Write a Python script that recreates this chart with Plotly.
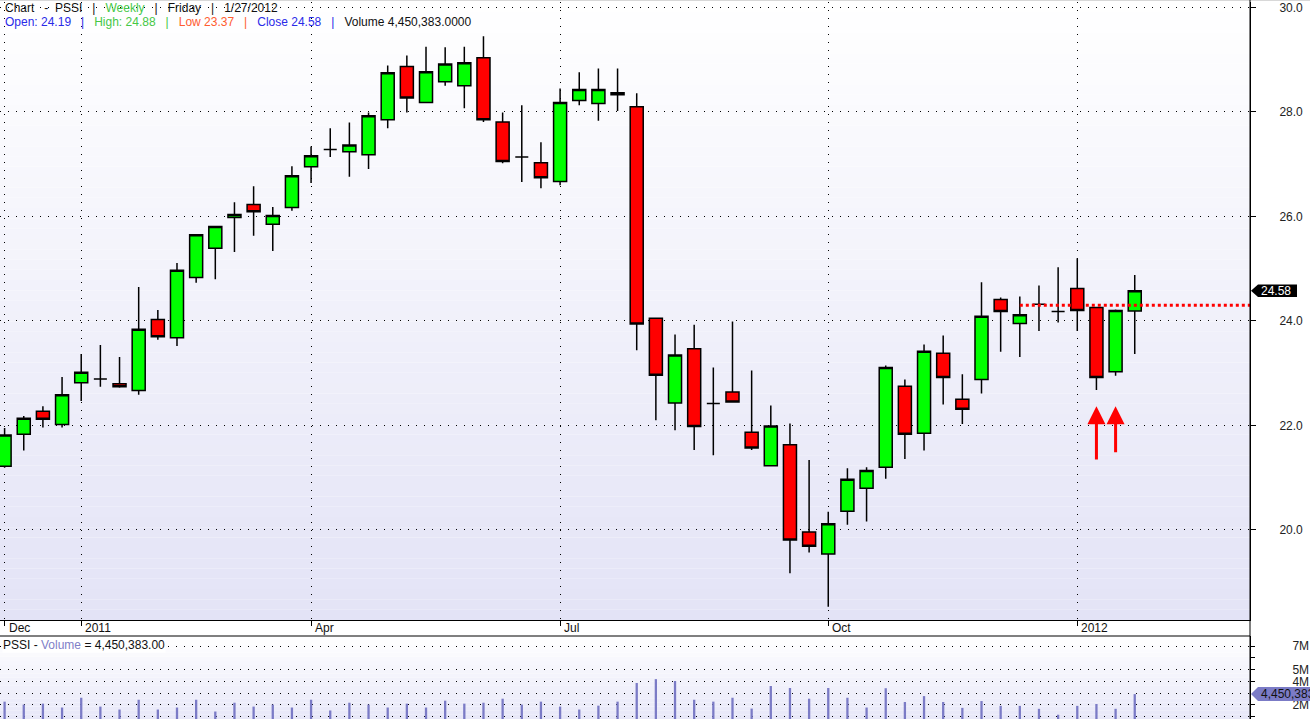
import numpy as np
import pandas as pd
import plotly.graph_objects as go

# ---------------- data ----------------
week_ending = pd.date_range("2010-12-10", periods=60, freq="7D")

open_ = [21.22, 21.83, 22.27, 22.02, 22.82, 22.89, 22.80, 22.67, 24.03, 23.68,
         24.83, 25.39, 25.98, 26.23, 25.85, 26.17, 26.95, 27.28, 27.24, 27.18,
         27.85, 28.87, 28.18, 28.58, 28.50, 29.04, 27.81, 27.14, 27.03, 26.67,
         28.22, 28.16, 28.33, 28.10, 24.05, 22.43, 23.47, 22.42, 22.64, 21.87,
         21.23, 21.63, 19.96, 19.54, 20.36, 20.80, 21.20, 22.75, 21.85, 23.38,
         22.50, 22.88, 24.41, 23.95, 24.32, 24.18, 24.62, 24.26, 23.03, 24.19]
high = [21.95, 22.18, 22.37, 22.93, 23.37, 23.54, 23.31, 24.65, 24.21, 25.11,
        25.66, 25.82, 26.27, 26.58, 26.18, 26.96, 27.34, 27.69, 27.80, 27.99,
        28.89, 29.08, 29.25, 29.24, 29.25, 29.45, 27.99, 28.13, 27.42, 28.45,
        28.76, 28.83, 28.83, 28.36, 24.06, 23.74, 23.93, 23.11, 23.99, 23.05,
        22.38, 22.04, 21.34, 20.35, 21.18, 21.20, 23.15, 22.88, 23.55, 23.72,
        22.98, 24.74, 24.45, 24.47, 24.68, 25.03, 25.20, 24.27, 24.22, 24.88]
low = [21.19, 21.52, 21.96, 21.96, 22.47, 22.74, 22.72, 22.59, 23.64, 23.52,
       24.73, 24.80, 25.32, 25.63, 25.34, 26.11, 26.64, 27.14, 26.76, 26.91,
       27.69, 27.99, 28.17, 28.50, 28.07, 27.81, 27.02, 26.66, 26.54, 26.60,
       28.13, 27.83, 28.02, 23.44, 22.10, 21.91, 21.53, 21.43, 22.44, 21.53,
       21.22, 19.17, 19.57, 18.53, 20.10, 20.16, 20.98, 21.36, 21.52, 22.40,
       22.03, 22.61, 23.41, 23.31, 23.81, 23.97, 23.81, 22.68, 22.95, 23.37]
close = [21.82, 22.14, 22.12, 22.59, 23.02, 22.89, 22.74, 23.84, 23.70, 24.97,
         25.65, 25.81, 26.04, 26.09, 26.02, 26.78, 27.16, 27.28, 27.37, 27.93,
         28.75, 28.27, 28.77, 28.92, 28.94, 27.85, 27.05, 27.14, 26.74, 28.18,
         28.43, 28.43, 28.37, 23.94, 22.96, 23.35, 21.98, 22.42, 22.45, 21.57,
         21.99, 19.81, 19.69, 20.12, 20.97, 21.14, 23.11, 21.83, 23.42, 22.92,
         22.31, 24.09, 24.18, 24.12, 24.32, 24.18, 24.20, 22.92, 24.20, 24.58]
# weekly volume in millions, read against the volume panel's scale
volume_m = [2.28, 2.03, 2.11, 1.78, 2.61, 1.86, 1.61, 2.44, 1.61, 1.78,
            2.44, 1.44, 2.19, 1.86, 2.03, 1.78, 2.44, 1.53, 2.19, 2.03,
            1.78, 2.11, 1.78, 2.36, 2.11, 2.19, 2.53, 2.03, 2.28, 1.86,
            1.61, 1.94, 2.28, 3.86, 4.19, 4.03, 2.44, 2.28, 2.61, 1.69,
            3.61, 3.44, 2.53, 3.44, 2.61, 1.78, 3.42, 2.25, 2.75, 2.25,
            1.75, 2.33, 1.92, 1.92, 1.67, 1.17, 1.92, 2.08, 1.67, 2.92]

price_ticks = [20, 22, 24, 26, 28, 30]
volume_ticks_m = [1, 2, 4, 5, 6, 7]
volume_tick_text = ["1M", "2M", "4M", "5M", "", "7M"]
volume_grid_m = [1, 2, 3, 4, 5, 7]
date_tick_dates = ["2010-12-10", "2011-01-07", "2011-04-01", "2011-07-01", "2011-10-07", "2012-01-06"]
date_tick_text = ["Dec", "2011", "Apr", "Jul", "Oct", "2012"]

support_level = 24.30
support_start = 53
arrow_weeks = [57, 58]
arrow_tip = [22.37, 22.37]
arrow_tail = [21.32, 21.46]
last_volume_text = "4,450,383"

# ---------------- geometry / style ----------------
W, H = 1310, 719
PLOT_R = 1250
FONT = "Liberation Sans, Arial, sans-serif"
px_per_day = 19.155 / 7.0


def py(px):
    return 1 - px / H


x_start = week_ending[0] - pd.Timedelta(days=4.6 / px_per_day)
x_end = x_start + pd.Timedelta(days=PLOT_R / px_per_day)

price_lo, price_hi = 18.277, 30.105
vol_lo, vol_hi = 0.806e6, 7.852e6

fig = go.Figure()

fig.add_trace(go.Candlestick(
    x=week_ending, open=open_, high=high, low=low, close=close,
    increasing=dict(line=dict(color="black", width=1.5), fillcolor="#00FF00"),
    decreasing=dict(line=dict(color="black", width=1.5), fillcolor="#FF0000"),
    whiskerwidth=0, xaxis="x", yaxis="y", showlegend=False, hoverinfo="skip"))

fig.add_trace(go.Scatter(
    x=[week_ending[support_start], x_end], y=[support_level, support_level],
    mode="lines", line=dict(color="#FF0000", width=3, dash="dot"),
    xaxis="x", yaxis="y", showlegend=False, hoverinfo="skip"))

bar_ms = 2.3 / px_per_day * 86400000
fig.add_trace(go.Bar(
    x=week_ending, y=np.array(volume_m) * 1e6, width=bar_ms,
    marker=dict(color="#7B7BC6", line=dict(width=0)),
    xaxis="x2", yaxis="y2", showlegend=False, hoverinfo="skip"))

shapes = []
# gradient backgrounds
top = np.array([255, 255, 255])
bot = np.array([227, 227, 246])
N = 60
for k in range(N):
    t = (k + 0.5) / N
    c = bot + (top - bot) * t
    shapes.append(dict(type="rect", xref="x domain", yref="y domain", x0=0, x1=1,
                       y0=k / N, y1=(k + 1) / N, fillcolor=f"rgb({c[0]:.0f},{c[1]:.0f},{c[2]:.0f})",
                       line=dict(width=0), layer="below"))
bot2 = np.array([231, 231, 248])
N2 = 20
for k in range(N2):
    t = (k + 0.5) / N2
    c = bot2 + (top - bot2) * t
    shapes.append(dict(type="rect", xref="x2 domain", yref="y2 domain", x0=0, x1=1,
                       y0=k / N2, y1=(k + 1) / N2, fillcolor=f"rgb({c[0]:.0f},{c[1]:.0f},{c[2]:.0f})",
                       line=dict(width=0), layer="below"))

# borders
shapes.append(dict(type="line", xref="paper", yref="paper", x0=0, x1=1,
                   y0=py(0.5), y1=py(0.5), line=dict(color="#D8D8D8", width=1)))
shapes.append(dict(type="line", xref="paper", yref="paper", x0=PLOT_R / W, x1=PLOT_R / W,
                   y0=0, y1=1, line=dict(color="black", width=1)))
shapes.append(dict(type="line", xref="paper", yref="paper", x0=0, x1=PLOT_R / W,
                   y0=py(636), y1=py(636), line=dict(color="black", width=1)))

# last price tag
c = close[-1]
h = 6.2 / 52.25
shapes.append(dict(type="path", xref="paper", yref="y",
                   path=f"M {1251/W},{c} L {1258/W},{c+h} L {1297/W},{c+h} L {1297/W},{c-h} L {1258/W},{c-h} Z",
                   fillcolor="black", line=dict(width=0)))
# last volume tag
cv = volume_m[-1] * 1e6
hv = 7 / 11.78 * 1e6
shapes.append(dict(type="path", xref="paper", yref="y2",
                   path=f"M {1251/W},{cv} L {1258/W},{cv+hv} L {1315/W},{cv+hv} L {1315/W},{cv-hv} L {1258/W},{cv-hv} Z",
                   fillcolor="#7B7BC6", line=dict(width=0)))

annotations = []
sp = "\u00a0"
sep1 = sp * 3 + "|" + sp * 3
line1 = ("Chart" + sp * 3 + "-" + sp * 2 + "PSSI" + sep1 +
         "<span style='color:#46C846'>Weekly</span>" + sep1 + "Friday" + sep1 + "1/27/2012")
line2 = ("<span style='color:#2A2AE8'>Open: 24.19" + sp * 3 + "|</span>" + sp * 3 +
         "<span style='color:#46C846'>High: 24.88" + sp * 3 + "|</span>" + sp * 3 +
         "<span style='color:#FF5C30'>Low 23.37" + sp * 3 + "|</span>" + sp * 3 +
         "<span style='color:#2A2AE8'>Close 24.58" + sp * 3 + "|</span>" + sp * 3 +
         "Volume 4,450,383.0000")
annotations.append(dict(text=line1, x=3 / W, y=py(8), xref="paper", yref="paper",
                        xanchor="left", yanchor="middle", showarrow=False,
                        font=dict(family=FONT, size=12, color="#111111")))
annotations.append(dict(text=line2, x=3 / W, y=py(22), xref="paper", yref="paper",
                        xanchor="left", yanchor="middle", showarrow=False,
                        font=dict(family=FONT, size=12, color="#111111")))
annotations.append(dict(text="PSSI - <span style='color:#8080C8'>Volume</span> = 4,450,383.00",
                        x=2 / W, y=py(645), xref="paper", yref="paper",
                        xanchor="left", yanchor="middle", showarrow=False, bgcolor="white",
                        borderpad=0, font=dict(family=FONT, size=12, color="#111111")))
for d, t in zip(date_tick_dates, date_tick_text):
    annotations.append(dict(text=t, x=d, y=py(628), xref="x", yref="paper", xanchor="left",
                            yanchor="middle", xshift=2, showarrow=False,
                            font=dict(family=FONT, size=12, color="#111111")))
for i, tip, tail in zip(arrow_weeks, arrow_tip, arrow_tail):
    annotations.append(dict(text="", x=week_ending[i], y=tip, ax=week_ending[i], ay=tail,
                            xref="x", yref="y", axref="x", ayref="y", showarrow=True,
                            arrowhead=2, arrowsize=1.2, arrowwidth=3, arrowcolor="#FF0000"))
annotations.append(dict(text=f"{close[-1]:.2f}", x=1276 / W, y=close[-1], xref="paper", yref="y",
                        xanchor="center", yanchor="middle", showarrow=False,
                        font=dict(family=FONT, size=12, color="white")))
annotations.append(dict(text=last_volume_text, x=1259 / W, y=cv, xref="paper", yref="y2",
                        xanchor="left", yanchor="middle", showarrow=False,
                        font=dict(family=FONT, size=12, color="#111111")))

grid_dash = "1px,7px"
fig.update_layout(
    width=W, height=H, autosize=False,
    margin=dict(l=0, r=0, t=0, b=0, pad=0),
    paper_bgcolor="white", plot_bgcolor="white",
    font=dict(family=FONT, size=12, color="#111111"),
    boxgap=0.32, boxgroupgap=0,
    showlegend=False, hovermode=False,
    shapes=shapes, annotations=annotations,
    xaxis=dict(domain=[0, PLOT_R / W], anchor="y", type="date",
               range=[x_start.isoformat(), x_end.isoformat()],
               rangeslider=dict(visible=False),
               tickmode="array", tickvals=date_tick_dates, ticktext=[""] * len(date_tick_dates),
               ticks="outside", ticklen=5, tickcolor="black", tickwidth=1,
               showgrid=True, gridcolor="black", gridwidth=1, griddash=grid_dash,
               showline=True, linecolor="black", linewidth=1, zeroline=False),
    yaxis=dict(domain=[py(620), py(2)], anchor="x", side="right",
               range=[price_lo, price_hi],
               tickmode="array", tickvals=price_ticks, ticktext=[f"{v:.1f}" for v in price_ticks],
               ticks="outside", ticklen=5, tickcolor="black", tickwidth=1,
               ticklabelstandoff=21,
               tickfont=dict(family=FONT, size=12, color="#222222"),
               showgrid=True, gridcolor="black", gridwidth=1, griddash=grid_dash,
               showline=True, linecolor="black", linewidth=1, zeroline=False),
    xaxis2=dict(domain=[0, PLOT_R / W], anchor="y2", type="date",
                range=[x_start.isoformat(), x_end.isoformat()],
                showticklabels=False, ticks="", showgrid=False, showline=False, zeroline=False),
    yaxis2=dict(domain=[0, py(636)], anchor="x2", side="right",
                range=[vol_lo, vol_hi],
                tickmode="array", tickvals=[v * 1e6 for v in volume_ticks_m], ticktext=volume_tick_text,
                ticks="outside", ticklen=4, tickcolor="black", tickwidth=1,
                ticklabelstandoff=35,
                tickfont=dict(family=FONT, size=12, color="#222222"),
                showgrid=False,
                minor=dict(tickmode="array", tickvals=[v * 1e6 for v in volume_grid_m], ticks="",
                           showgrid=True, gridcolor="black", gridwidth=1, griddash=grid_dash),
                showline=True, linecolor="black", linewidth=1, zeroline=False),
)

fig.write_html("out.html", config={"displayModeBar": False},
               post_script="document.body.style.margin='0';document.body.style.overflow='hidden';")
